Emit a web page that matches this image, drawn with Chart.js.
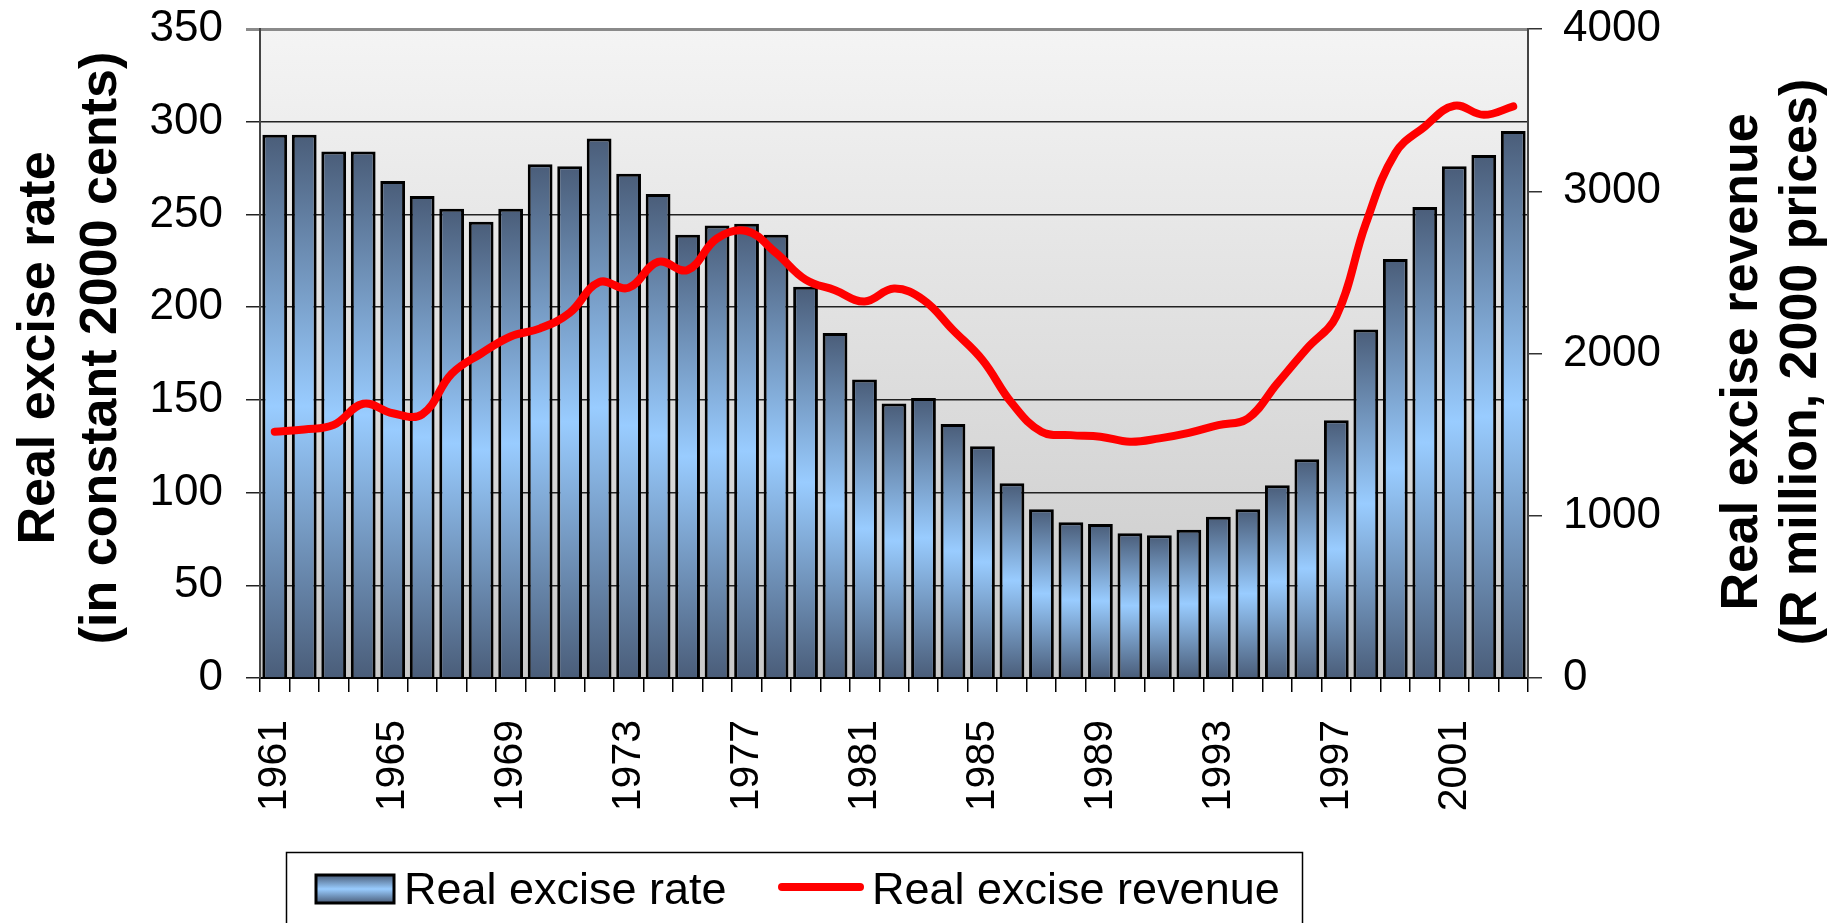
<!DOCTYPE html>
<html lang="en">
<head>
  <meta charset="UTF-8">
  <title>Real excise rate and revenue</title>
  <script src="https://cdn.jsdelivr.net/npm/chart.js"></script>
  <style>
    html, body {
      margin: 0;
      padding: 0;
      background: #fff;
    }

    .chart-box {
      position: relative;
      width: 1833px;
      height: 923px;
    }
  </style>
</head>
<body>

<div class="chart-box">
  <canvas id="exciseChart"></canvas>
</div>

<script>
  const years = [
    '1961', '1962', '1963', '1964', '1965', '1966', '1967', '1968', '1969', '1970',
    '1971', '1972', '1973', '1974', '1975', '1976', '1977', '1978', '1979', '1980',
    '1981', '1982', '1983', '1984', '1985', '1986', '1987', '1988', '1989', '1990',
    '1991', '1992', '1993', '1994', '1995', '1996', '1997', '1998', '1999', '2000',
    '2001', '2002', '2003'
  ];

  // real excise rate, constant 2000 cents (bars, left axis)
  const rateCents = [
    293, 293, 284, 284, 268, 260, 253, 246, 253, 277,
    276, 291, 272, 261, 239, 244, 245, 239, 211, 186,
    161, 148, 151, 137, 125, 105, 91, 84, 83, 78,
    77, 80, 87, 91, 104, 118, 139, 188, 226, 254,
    276, 282, 295
  ];

  // real excise revenue, R million at 2000 prices (line, right axis)
  const revenueMillions = [
    1518, 1532, 1560, 1690, 1632, 1625, 1875, 2000, 2105, 2155,
    2250, 2440, 2405, 2565, 2515, 2710, 2755, 2620, 2455, 2390,
    2320, 2400, 2330, 2145, 1960, 1693, 1518, 1497, 1487, 1456,
    1477, 1511, 1559, 1600, 1816, 2030, 2230, 2800, 3235, 3399,
    3527, 3471, 3523
  ];

  const shownYears = ['1961', '1965', '1969', '1973', '1977', '1981', '1985', '1989', '1993', '1997', '2001'];

  const FONT = 'Arial, "Liberation Sans", sans-serif';
  const DARK = '#4a5d79';
  const LIGHT = '#99ccff';

  function barGradient(c, top, bottom) {
    const g = c.createLinearGradient(0, top, 0, bottom);
    g.addColorStop(0, DARK);
    g.addColorStop(0.5, LIGHT);
    g.addColorStop(1, DARK);
    return g;
  }

  function barFill(ctx) {
    const chart = ctx.chart;
    if (!chart.chartArea || ctx.type !== 'data') return '#7fa8d6';
    const y = chart.scales.y;
    return barGradient(chart.ctx, y.getPixelForValue(ctx.raw), y.getPixelForValue(0));
  }

  // fixed axis sizes so the plot sits where the original does
  function fixVertical(width) {
    return s => {
      s.width = width;
      s.paddingTop = 0;
      s.paddingBottom = 0;
    };
  }

  // grey gradient behind the plot
  const plotBackground = {
    id: 'plotBackground',
    beforeDraw(chart) {
      const { ctx, chartArea: a } = chart;
      const g = ctx.createLinearGradient(0, a.top, 0, a.bottom);
      g.addColorStop(0, '#f4f4f4');
      g.addColorStop(1, '#c9c9c9');
      ctx.save();
      ctx.fillStyle = g;
      ctx.fillRect(a.left, a.top, a.right - a.left, a.bottom - a.top);
      ctx.restore();
    }
  };

  // two-line axis titles, both read bottom to top, plus boxed legend
  const titlesAndLegend = {
    id: 'titlesAndLegend',
    afterDraw(chart) {
      const ctx = chart.ctx;

      ctx.save();
      ctx.fillStyle = '#000';
      ctx.font = 'bold 52px ' + FONT;
      ctx.textAlign = 'center';
      ctx.textBaseline = 'alphabetic';
      [[54, 348, 'Real excise rate'], [116, 348, '(in constant 2000 cents)'],
       [1757, 362, 'Real excise revenue'], [1816, 362, '(R million, 2000 prices)']].forEach(([x, y, txt]) => {
        ctx.save();
        ctx.translate(x, y);
        ctx.rotate(-Math.PI / 2);
        ctx.fillText(txt, 0, 0);
        ctx.restore();
      });
      ctx.restore();

      // legend
      ctx.save();
      ctx.strokeStyle = '#000';
      ctx.lineWidth = 1.5;
      ctx.strokeRect(286.5, 852.5, 1016, 80);

      ctx.fillStyle = barGradient(ctx, 875, 903);
      ctx.fillRect(316, 875, 78, 28);
      ctx.lineWidth = 3;
      ctx.strokeRect(316, 875, 78, 28);

      ctx.strokeStyle = '#ff0000';
      ctx.lineWidth = 8;
      ctx.lineCap = 'round';
      ctx.beginPath();
      ctx.moveTo(782, 887);
      ctx.lineTo(860, 887);
      ctx.stroke();

      ctx.fillStyle = '#000';
      ctx.font = '45px ' + FONT;
      ctx.textAlign = 'left';
      ctx.textBaseline = 'alphabetic';
      ctx.fillText(chart.data.datasets[0].label, 404, 904);
      ctx.fillText(chart.data.datasets[1].label, 872, 904);
      ctx.restore();
    }
  };

  new Chart(document.getElementById('exciseChart'), {
    type: 'bar',
    data: {
      labels: years,
      datasets: [
        {
          label: 'Real excise rate',
          data: rateCents,
          yAxisID: 'y',
          backgroundColor: barFill,
          borderColor: '#000',
          borderWidth: 3,
          barPercentage: 0.84,
          categoryPercentage: 1,
          order: 1
        },
        {
          type: 'line',
          label: 'Real excise revenue',
          data: revenueMillions,
          yAxisID: 'y2',
          borderColor: '#ff0000',
          borderWidth: 8,
          borderCapStyle: 'round',
          pointRadius: 0,
          tension: 0.4,
          fill: false,
          order: 0
        }
      ]
    },
    options: {
      responsive: true,
      maintainAspectRatio: false,
      animation: false,
      layout: { padding: { top: 29, left: 0, right: 0, bottom: 0 } },
      scales: {
        x: {
          afterFit: s => { s.height = 245; },
          grid: {
            drawOnChartArea: false,
            drawTicks: true,
            tickLength: 14,
            color: '#000',
            lineWidth: 1.5
          },
          border: { color: '#000', width: 2 },
          ticks: {
            autoSkip: false,
            maxRotation: 90,
            minRotation: 90,
            padding: 28,
            color: '#000',
            font: { family: FONT, size: 41 },
            callback: function (value) {
              const lbl = this.getLabelForValue(value);
              return shownYears.includes(lbl) ? lbl : '';
            }
          }
        },
        y: {
          position: 'left',
          min: 0,
          max: 350,
          afterFit: fixVertical(260),
          grid: {
            color: ctx => ctx.tick && ctx.tick.value === 350 ? '#8a8a8a' : '#222',
            lineWidth: ctx => ctx.tick && ctx.tick.value === 350 ? 3 : 1.5,
            tickLength: 14
          },
          border: { color: '#444', width: 2 },
          ticks: {
            stepSize: 50,
            padding: 23,
            color: '#000',
            font: { family: FONT, size: 44 },
            callback: v => String(v)
          }
        },
        y2: {
          position: 'right',
          min: 0,
          max: 4000,
          afterFit: fixVertical(305),
          grid: {
            drawOnChartArea: false,
            tickLength: 14,
            color: '#333',
            lineWidth: 1.5
          },
          border: { color: '#444', width: 2 },
          ticks: {
            stepSize: 1000,
            padding: 21,
            color: '#000',
            font: { family: FONT, size: 44 },
            callback: v => String(v)
          }
        }
      },
      plugins: {
        legend: { display: false },
        tooltip: { enabled: false }
      }
    },
    plugins: [plotBackground, titlesAndLegend]
  });
</script>

</body>
</html>
